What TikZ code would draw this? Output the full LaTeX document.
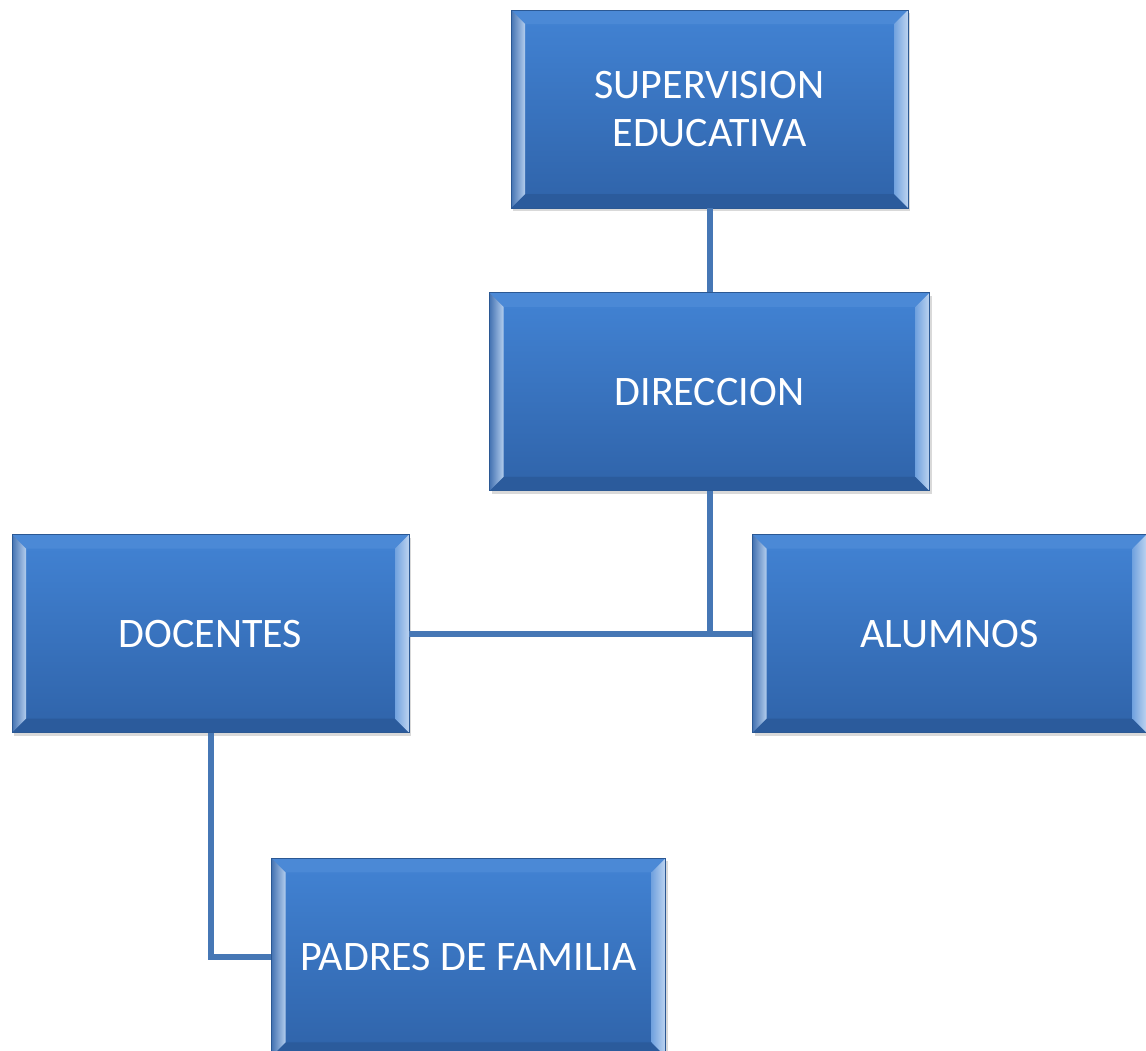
\documentclass[tikz,border=0pt]{standalone}
\usepackage{fontspec}
\setmainfont{Carlito}
\usetikzlibrary{positioning,shadows}
\definecolor{boxtop}{HTML}{4283D4}
\definecolor{boxbot}{HTML}{2F63A9}
\definecolor{boxedge}{HTML}{2B5893}
\definecolor{linkblue}{HTML}{4677B5}

\begin{document}
\begin{tikzpicture}[x=1pt,y=-1pt,
  box/.style={rectangle,draw=boxedge,line width=0.8pt,top color=boxtop,bottom color=boxbot,
    minimum width=397pt,minimum height=198pt,text=white,align=center,
    font=\fontsize{42}{48}\selectfont,
    drop shadow={shadow xshift=2pt,shadow yshift=-3pt,opacity=.3},
    path picture={
      % bevel round the face
      \coordinate (nw) at (path picture bounding box.north west);
      \coordinate (ne) at (path picture bounding box.north east);
      \coordinate (sw) at (path picture bounding box.south west);
      \coordinate (se) at (path picture bounding box.south east);
      \fill[boxtop!95!white] (nw) -- (ne) -- ([shift={(-14pt,-14pt)}]ne) -- ([shift={(14pt,-14pt)}]nw) -- cycle;
      \fill[boxbot!92!black] (sw) -- (se) -- ([shift={(-14pt,14pt)}]se) -- ([shift={(14pt,14pt)}]sw) -- cycle;
      \shade[left color=boxbot!90!white,right color=boxtop!40!white] (nw) -- (sw) -- ([shift={(14pt,14pt)}]sw) -- ([shift={(14pt,-14pt)}]nw) -- cycle;
      \shade[left color=boxtop!75!white,right color=boxtop!35!white] (ne) -- (se) -- ([shift={(-14pt,14pt)}]se) -- ([shift={(-14pt,-14pt)}]ne) -- cycle;
    }},
  link/.style={draw=linkblue,line width=6pt}]

  \useasboundingbox (0,0) rectangle (1146,1050);
  \clip (0,0) rectangle (1146,1050);

  \node[box] (sup) at (709.5,109) {SUPERVISION\\EDUCATIVA};
  \node[box,minimum width=440pt] (dir) [below=84pt of sup] {DIRECCION};
  \node[box] (doc) [below=43pt of dir,xshift=-499pt] {DOCENTES};
  \node[box,minimum width=394pt] (alu) [below=43pt of dir,xshift=240pt] {ALUMNOS};
  \node[box,minimum width=394pt] (pad) [below=125pt of doc,xshift=258pt] {PADRES DE FAMILIA};

  \draw[link] (sup.south) -- (sup.south |- dir.north);
  \draw[link] (dir.south) -- (dir.south |- alu.west);
  \draw[link] (doc.east) -- (alu.west);
  \draw[link] (doc.south) |- (pad.west);

\end{tikzpicture}
\end{document}
